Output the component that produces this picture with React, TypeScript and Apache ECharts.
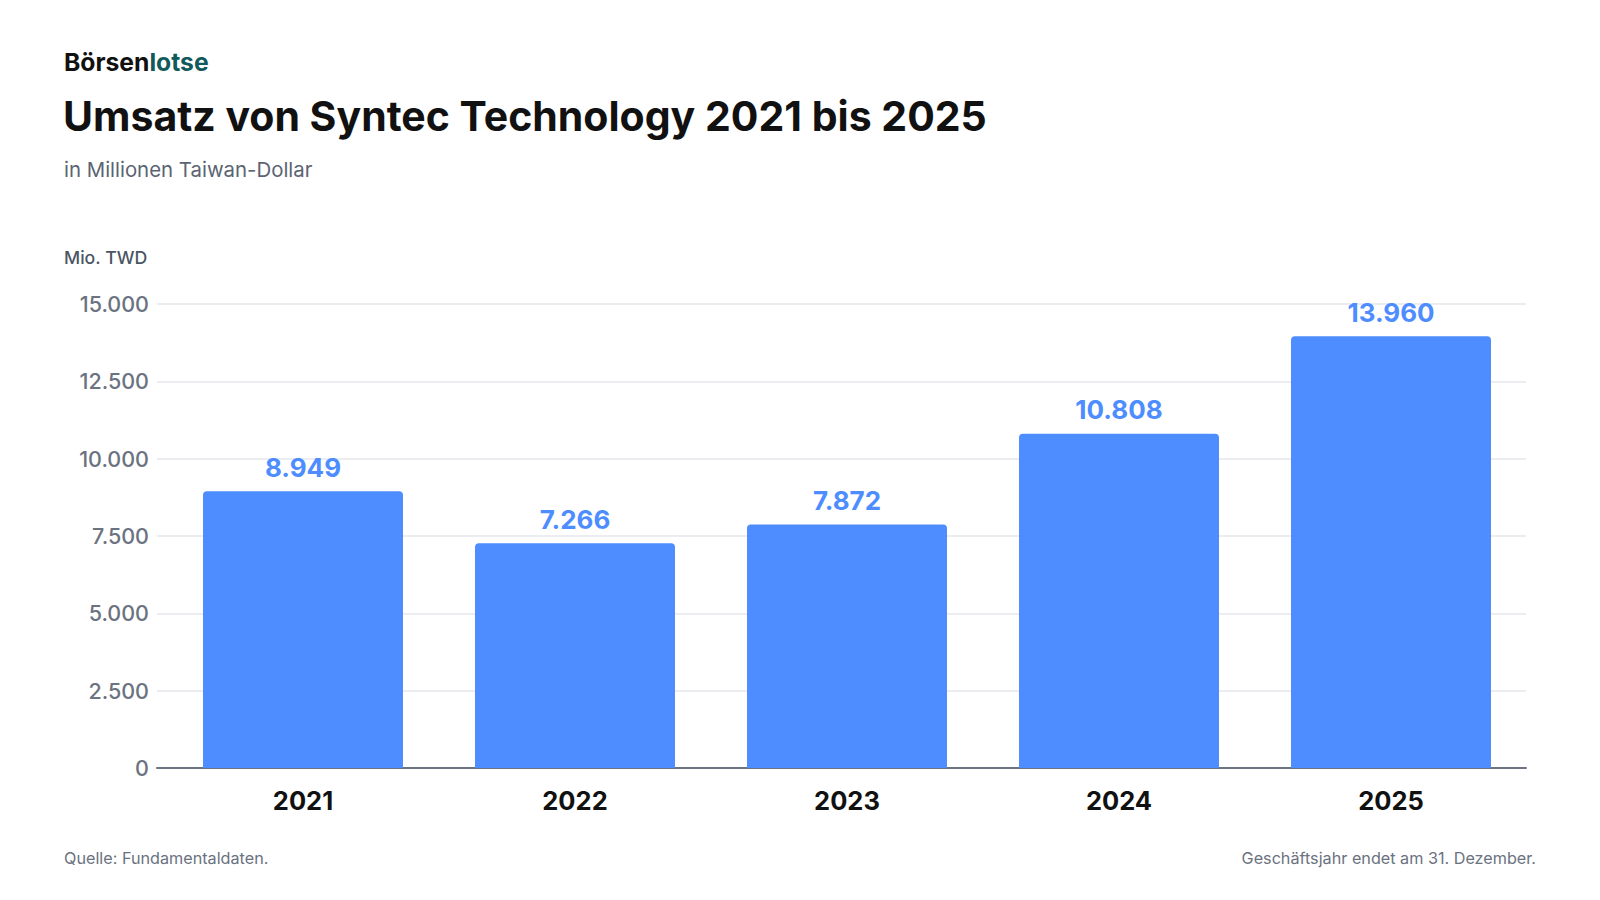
import React, { useEffect, useRef } from "react";
import * as echarts from "echarts";

const years = ["2021", "2022", "2023", "2024", "2025"];
const revenue = [8949, 7266, 7872, 10808, 13960];
const yTicks = { min: 0, max: 15000, interval: 2500 };

const fmt = (v: number) => String(Math.round(v)).replace(/\B(?=(\d{3})+(?!\d))/g, ".");

const FONT = "Inter, 'Noto Sans', sans-serif";
const BLUE = "#4d8dff";

export default function App() {
  const ref = useRef<HTMLDivElement>(null);
  useEffect(() => {
    if (!ref.current) return;
    const chart = echarts.init(ref.current, undefined, { renderer: "svg" });
    chart.setOption({
      animation: false,
      backgroundColor: "#ffffff",
      textStyle: { fontFamily: FONT },
      grid: [
        { left: 157, right: 74, top: 304, bottom: 132 },
        { left: 167, right: 73, top: 304, bottom: 132 },
      ],
      xAxis: [
        {
          gridIndex: 0,
          type: "category",
          data: years,
          axisLine: { show: true, lineStyle: { color: "#6b7280", width: 2 } },
          axisTick: { show: false },
          axisLabel: { show: false },
          splitLine: { show: false },
        },
        {
          gridIndex: 1,
          type: "category",
          data: years,
          axisLine: { show: false },
          axisTick: { show: false },
          axisLabel: {
            show: true,
            fontSize: 25.5,
            fontWeight: 700,
            color: "#111111",
            fontFamily: FONT,
            margin: 19,
          },
        },
      ],
      yAxis: [
        {
          gridIndex: 0,
          type: "value",
          min: yTicks.min,
          max: yTicks.max,
          interval: yTicks.interval,
          axisLine: { show: false },
          axisTick: { show: false },
          axisLabel: {
            fontSize: 21.5,
            fontWeight: 500,
            color: "#6b7280",
            fontFamily: FONT,
            margin: 8,
            formatter: (v: number) => fmt(v),
          },
          splitLine: { show: true, lineStyle: { color: "#e5e7eb", width: 1.5 } },
        },
        {
          gridIndex: 1,
          type: "value",
          min: yTicks.min,
          max: yTicks.max,
          interval: yTicks.interval,
          show: false,
          splitLine: { show: false },
        },
      ],
      series: [
        {
          type: "bar",
          xAxisIndex: 1,
          yAxisIndex: 1,
          data: revenue,
          barWidth: 200,
          itemStyle: { color: BLUE, borderRadius: [4, 4, 0, 0] },
          label: {
            show: true,
            position: "top",
            distance: 11,
            fontSize: 26,
            fontWeight: 700,
            color: BLUE,
            fontFamily: FONT,
            formatter: (p: any) => fmt(p.value),
          },
        },
      ],
      graphic: [
        {
          type: "text",
          left: 64,
          top: 49,
          style: {
            text: "{a|Börsen}{b|lotse}",
            rich: {
              a: { fontSize: 24.7, fontWeight: 700, fill: "#111111", fontFamily: FONT },
              b: { fontSize: 24.7, fontWeight: 700, fill: "#12595b", fontFamily: FONT },
            },
          },
        },
        {
          type: "text",
          left: 63,
          top: 95,
          style: {
            text: "Umsatz von Syntec Technology 2021 bis 2025",
            fontSize: 41,
            fontWeight: 700,
            fill: "#111111",
            fontFamily: FONT,
          },
        },
        {
          type: "text",
          left: 64,
          top: 159,
          style: {
            text: "in Millionen Taiwan-Dollar",
            fontSize: 20.4,
            fill: "#5b6472",
            fontFamily: FONT,
          },
        },
        {
          type: "text",
          left: 64,
          top: 248,
          style: {
            text: "Mio. TWD",
            fontSize: 17.7,
            fontWeight: 500,
            fill: "#4b5563",
            fontFamily: FONT,
          },
        },
        {
          type: "text",
          left: 64,
          top: 850,
          style: {
            text: "Quelle: Fundamentaldaten.",
            fontSize: 16.2,
            fill: "#6b7280",
            fontFamily: FONT,
          },
        },
        {
          type: "text",
          right: 64,
          top: 850,
          style: {
            text: "Geschäftsjahr endet am 31. Dezember.",
            fontSize: 16.2,
            fill: "#6b7280",
            fontFamily: FONT,
          },
        },
      ],
    });
    return () => chart.dispose();
  }, []);
  return <div ref={ref} style={{ width: 1600, height: 900, margin: -8 }} />;
}
